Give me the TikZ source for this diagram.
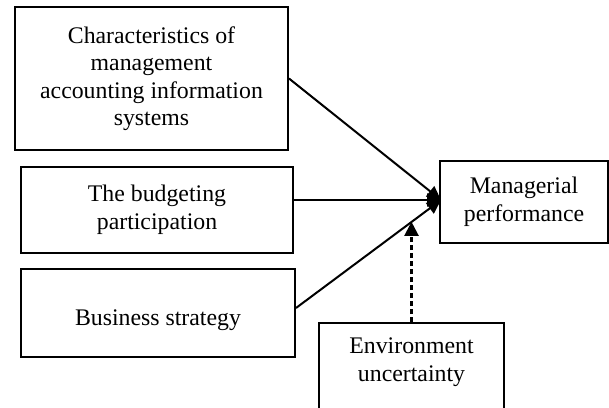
\documentclass[tikz,border=0pt]{standalone}
\usepackage{fontspec}
\setmainfont{Liberation Serif}
\usetikzlibrary{arrows.meta,calc}
\begin{document}
\begin{tikzpicture}[x=0.5pt,y=-0.5pt,
  box/.style={draw,line width=1pt,align=center,inner sep=0pt,
    font=\fontsize{11.9}{13.75}\selectfont},
  link/.style={line width=1pt,-{Triangle[length=7pt,width=6.5pt]}},
  cue/.style={line width=1.1pt,dash pattern=on 2.5pt off 1.5pt,
    -{Triangle[length=7pt,width=7pt]}}]
\useasboundingbox (0,0) rectangle (609,407);
\clip (0,0) rectangle (609,407);

% antecedent boxes
\node[box,minimum width=136.5pt,minimum height=71.5pt] (mais) at (151.5,78.5)
  {Characteristics of\\management\\accounting information\\systems};
\node[box,minimum width=136pt,minimum height=43pt] (bud) at (157,210)
  {The budgeting\\participation};
\node[box,minimum width=137pt,minimum height=44pt,text height=14.6pt,text depth=2.6pt]
  (strat) at (158,313) {Business strategy};

% outcome box
\node[box,minimum width=84pt,minimum height=41pt] (mgr) at (524,202)
  {Managerial\\performance};

% moderator box, running off the lower edge
\node[box,anchor=north,minimum width=92.5pt,inner ysep=7.6pt,text depth=50pt]
  (env) at (411.5,322) {Environment\\uncertainty};

% paths into the outcome
\coordinate (hub) at (441,200);
\draw[link] (mais.east) -- (hub);
\draw[link] (bud.east |- hub) -- (hub);
\draw[link] ([yshift=2.5pt]strat.east) -- (hub);

% moderating effect
\coordinate (meet) at ($([yshift=2.5pt]strat.east)!0.798!(hub)$);
\draw[cue] (env.north) -- (env.north |- meet);
\end{tikzpicture}
\end{document}
